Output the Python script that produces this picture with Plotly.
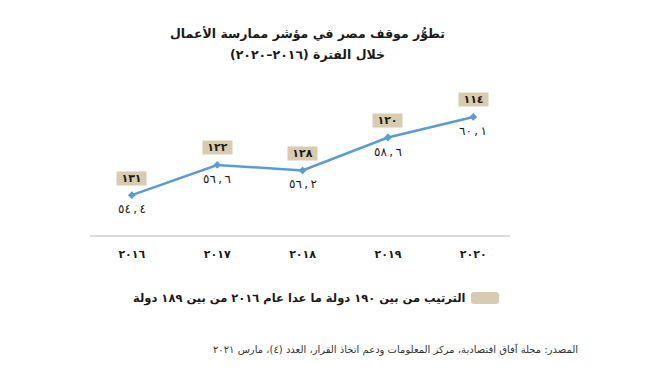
import plotly.graph_objects as go

years = ["2016", "2017", "2018", "2019", "2020"]
values = [54.4, 56.6, 56.2, 58.6, 60.1]
ranks = [131, 122, 128, 120, 114]

title_l1 = "تطوُّر موقف مصر في مؤشر ممارسة الأعمال"
title_l2 = "خلال الفترة (٢٠١٦–٢٠٢٠)"
legend_txt = "الترتيب من بين ١٩٠ دولة ما عدا عام ٢٠١٦ من بين ١٨٩ دولة"
source_txt = "المصدر: مجلة آفاق اقتصادية، مركز المعلومات ودعم اتخاذ القرار، العدد (٤)، مارس ٢٠٢١"

AR = str.maketrans("0123456789", "٠١٢٣٤٥٦٧٨٩")


def ar(s):
    return str(s).translate(AR)


def rtl(s):
    return "\u202b" + s + "\u202c"


def num_label(v):
    a, b = str(v).split(".")
    return "\u202d" + ar(a) + "\u2009,\u2009" + ar(b) + "\u202c"


FONT = "DejaVu Sans"
LINE = "#5b9bd5"
BOX = "#d8cbaf"
TXT = "#1a1a1a"

OFF = 8  # page body margin
W, H = 656 - OFF, 370 - OFF
PW, PH = 420, 145
ML, MT = 90 - OFF, 90 - OFF
MR = W - ML - PW
MB = H - MT - PH


def sx(p):
    return (p - OFF - ML) / PW


def sy(p):
    return (H - MB - (p - OFF)) / PH


fig = go.Figure()
fig.add_trace(go.Scatter(
    x=years, y=values, mode="lines+markers",
    line=dict(color=LINE, width=2.5),
    marker=dict(symbol="diamond", size=6, color=LINE),
    hoverinfo="skip", showlegend=False,
))

annotations = []
for i, (v, r) in enumerate(zip(values, ranks)):
    annotations.append(dict(
        x=i, y=v, xref="x", yref="y", text="<b>" + ar(r) + "</b>",
        showarrow=False, yshift=17, font=dict(family=FONT, size=11, color=TXT),
        bgcolor=BOX, borderpad=0, width=29, height=13, align="center",
    ))
    annotations.append(dict(
        x=i, y=v, xref="x", yref="y", text=num_label(v),
        showarrow=False, yshift=-14, font=dict(family=FONT, size=12, color=TXT),
    ))

annotations.append(dict(
    x=sx(307), y=sy(33), xref="paper", yref="paper", xanchor="center", yanchor="middle",
    text="<b>" + rtl(title_l1) + "</b>", showarrow=False,
    font=dict(family=FONT, size=12.5, color=TXT),
))
annotations.append(dict(
    x=sx(307), y=sy(55), xref="paper", yref="paper", xanchor="center", yanchor="middle",
    text="<b>" + rtl(title_l2) + "</b>", showarrow=False,
    font=dict(family=FONT, size=12.5, color=TXT),
))
annotations.append(dict(
    x=sx(467), y=sy(298), xref="paper", yref="paper", xanchor="right", yanchor="middle",
    text="<b>" + rtl(legend_txt) + "</b>", showarrow=False,
    font=dict(family=FONT, size=11.5, color=TXT),
))
annotations.append(dict(
    x=sx(580), y=sy(349), xref="paper", yref="paper", xanchor="right", yanchor="middle",
    text=rtl(source_txt), showarrow=False,
    font=dict(family=FONT, size=10, color="#333333"),
))

# rounded legend swatch
x0, x1, y0, y1 = sx(471), sx(499), sy(304), sy(292)
rx, ry = 3 / PW, 3 / PH
path = (f"M {x0+rx},{y0} L {x1-rx},{y0} Q {x1},{y0} {x1},{y0+ry} "
        f"L {x1},{y1-ry} Q {x1},{y1} {x1-rx},{y1} L {x0+rx},{y1} "
        f"Q {x0},{y1} {x0},{y1-ry} L {x0},{y0+ry} Q {x0},{y0} {x0+rx},{y0} Z")
shapes = [dict(
    type="path", xref="paper", yref="paper", path=path,
    fillcolor=BOX, line=dict(width=0), layer="above",
)]

fig.update_layout(
    width=W, height=H,
    margin=dict(l=ML, r=MR, t=MT, b=MB),
    paper_bgcolor="white", plot_bgcolor="white",
    xaxis=dict(
        type="category", range=[-0.49, 4.43],
        tickvals=years, ticktext=["<b>" + ar(y) + "</b>" for y in years],
        tickfont=dict(family=FONT, size=11, color=TXT),
        showline=True, linecolor="#d9d9d9", linewidth=2,
        showgrid=False, zeroline=False,
        ticks="outside", ticklen=8, tickcolor="rgba(0,0,0,0)",
    ),
    yaxis=dict(range=[51.5, 62.06], visible=False, showgrid=False, zeroline=False),
    annotations=annotations, shapes=shapes,
)

fig.write_html("out.html")
